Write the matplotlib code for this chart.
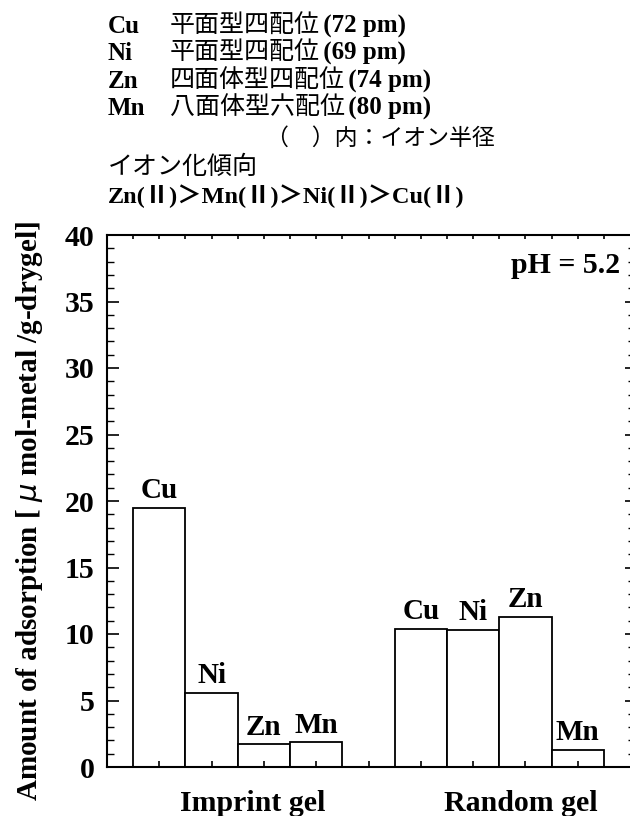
import numpy as np
import matplotlib
matplotlib.use("Agg")
import matplotlib.pyplot as plt
from matplotlib.ticker import MultipleLocator

# data
metals = ["Cu", "Ni", "Zn", "Mn"]
groups = ["Imprint gel", "Random gel"]
imprint_vals = [19.5, 5.6, 1.7, 1.85]
random_vals = [10.4, 10.3, 11.3, 1.3]

header_lines = [
    ("Cu", "平面型四配位", " (72 pm)"),
    ("Ni", "平面型四配位", " (69 pm)"),
    ("Zn", "四面体型四配位", " (74 pm)"),
    ("Mn", "八面体型六配位", " (80 pm)"),
]
radius_note = "（　）内：イオン半径"
trend_title = "イオン化傾向"
trend_text = "Zn(Ⅱ)＞Mn(Ⅱ)＞Ni(Ⅱ)＞Cu(Ⅱ)"

W, H = 630, 816
SERIF = "Liberation Serif"
JP = "Noto Sans CJK JP"

fig = plt.figure(figsize=(W / 100, H / 100), dpi=100)
ax = fig.add_axes([107 / W, 49 / H, 1 - 107 / W, (767 - 235) / H])

pos_imp = np.arange(1, 5)
pos_ran = np.arange(6, 10)
bar_kw = dict(width=1.0, color="white", edgecolor="black", linewidth=1.3)
ax.bar(pos_imp, imprint_vals, **bar_kw)
ax.bar(pos_ran, random_vals, **bar_kw)

lab_kw = dict(ha="center", va="baseline", fontsize=21, fontweight="bold", family=SERIF)
for p, v, m in zip(pos_imp, imprint_vals, metals):
    ax.annotate(m, (p, v), xytext=(0, 7), textcoords="offset points", **lab_kw)
for p, v, m in zip(pos_ran, random_vals, metals):
    ax.annotate(m, (p, v), xytext=(0, 7), textcoords="offset points", **lab_kw)

ax.set_xlim(0, 10)
ax.set_ylim(0, 40)

# bottom ticks at bar slots, no labels
ax.set_xticks(np.arange(1, 10))
ax.set_xticklabels([])
ax.tick_params(axis="x", which="both", direction="in", length=4.5, width=1.2,
               top=False, bottom=True)

ax.yaxis.set_major_locator(MultipleLocator(5))
ax.yaxis.set_minor_locator(MultipleLocator(1))
ax.tick_params(axis="y", which="major", direction="in", length=8.5, width=1.2,
               left=True, right=False, pad=9)
ax.tick_params(axis="y", which="minor", direction="in", length=5, width=1.0,
               left=True, right=False)
for lbl in ax.get_yticklabels():
    lbl.set_family(SERIF)
    lbl.set_fontweight("bold")
    lbl.set_fontsize(21.5)

for side in ["left", "bottom", "top"]:
    ax.spines[side].set_linewidth(1.5)
ax.spines["right"].set_visible(False)

# top ticks every half slot
top = ax.secondary_xaxis("top")
top.set_xticks(np.arange(0.5, 10, 0.5))
top.set_xticklabels([])
top.tick_params(direction="in", length=3, width=1.2)
top.spines["top"].set_visible(False)

# right ticks (spine falls on the image edge)
right = ax.secondary_yaxis("right")
right.yaxis.set_major_locator(MultipleLocator(5))
right.yaxis.set_minor_locator(MultipleLocator(1))
right.set_yticklabels([])
right.tick_params(which="major", direction="in", length=3.5, width=1.2)
right.tick_params(which="minor", direction="in", length=1.5, width=1.0)
right.spines["right"].set_visible(False)

ax.text(0.981, 0.9286, "pH = 5.2", transform=ax.transAxes, ha="right", va="baseline",
        fontsize=21.5, fontweight="bold", family=SERIF)

ax.text(np.mean(pos_imp) + 0.28, -3.3, groups[0], ha="center", va="baseline",
        fontsize=21.5, fontweight="bold", family=SERIF, clip_on=False)
ax.text(np.mean(pos_ran) + 0.42, -3.3, groups[1], ha="center", va="baseline",
        fontsize=21.5, fontweight="bold", family=SERIF, clip_on=False)

fig.text(30 / W, 1 - 511 / H, "Amount of adsorption [ $\\mu$ mol-metal /g-drygel]",
         rotation=90, ha="center", va="center", fontsize=21, fontweight="bold",
         family=SERIF)

# header text, laid out piece by piece
renderer = fig.canvas.get_renderer()
latin = dict(family=SERIF, fontweight="bold", fontsize=18)
jp = dict(family=JP, fontsize=18)


def put(x_px, y_px, text, style, ha="left"):
    t = fig.text(x_px / W, 1 - y_px / H, text, va="baseline", ha=ha, **style)
    return t.get_window_extent(renderer).x1


baselines = [33, 60, 88, 115]
for (el, geo, rad), yb in zip(header_lines, baselines):
    put(108, yb, el, latin)
    x = put(170, yb, geo, jp)
    put(x - 3, yb, rad, latin)

put(495, 145, radius_note, dict(family=JP, fontsize=16.5), ha="right")
put(108, 174, trend_title, jp)
put(108, 203, trend_text, dict(family=[SERIF, JP], fontweight="bold", fontsize=17.5))

fig.savefig("out.png", dpi=100)
